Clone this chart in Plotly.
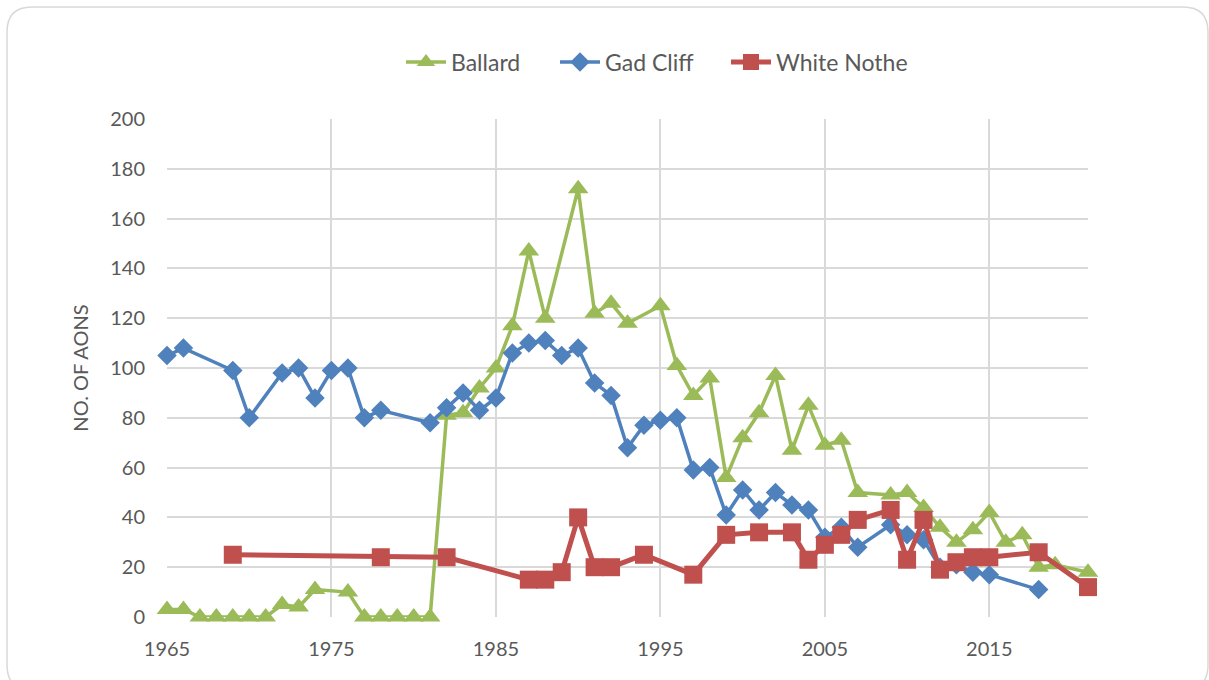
import plotly.graph_objects as go

# ---- data ----
ballard_years = [1965, 1966, 1967, 1968, 1969, 1970, 1971, 1972, 1973, 1974, 1976, 1977,
                 1978, 1979, 1980, 1981, 1982, 1983, 1984, 1985, 1986, 1987, 1988, 1990,
                 1991, 1992, 1993, 1995, 1996, 1997, 1998, 1999, 2000, 2001, 2002, 2003,
                 2004, 2005, 2006, 2007, 2009, 2010, 2011, 2012, 2013, 2014, 2015, 2016,
                 2017, 2018, 2019, 2021]
ballard_vals = [3, 3, 0, 0, 0, 0, 0, 5, 4, 11, 10, 0,
                0, 0, 0, 0, 81, 82, 92, 100, 117, 147, 120, 172,
                122, 126, 118, 125, 101, 89, 96, 56, 72, 82, 97, 67,
                85, 69, 71, 50, 49, 50, 44, 36, 30, 35, 42, 30,
                33, 20, 21, 18]

gad_years = [1965, 1966, 1969, 1970, 1972, 1973, 1974, 1975, 1976, 1977, 1978, 1981,
             1982, 1983, 1984, 1985, 1986, 1987, 1988, 1989, 1990, 1991, 1992, 1993,
             1994, 1995, 1996, 1997, 1998, 1999, 2000, 2001, 2002, 2003, 2004, 2005,
             2006, 2007, 2009, 2010, 2011, 2012, 2013, 2014, 2015, 2018]
gad_vals = [105, 108, 99, 80, 98, 100, 88, 99, 100, 80, 83, 78,
            84, 90, 83, 88, 106, 110, 111, 105, 108, 94, 89, 68,
            77, 79, 80, 59, 60, 41, 51, 43, 50, 45, 43, 32,
            36, 28, 37, 33, 31, 20, 21, 18, 17, 11]

white_years = [1969, 1978, 1982, 1987, 1988, 1989, 1990, 1991, 1992, 1994, 1997, 1999,
               2001, 2003, 2004, 2005, 2006, 2007, 2009, 2010, 2011, 2012, 2013, 2014,
               2015, 2018, 2021]
white_vals = [25, 24, 24, 15, 15, 18, 40, 20, 20, 25, 17, 33,
              34, 34, 23, 29, 33, 39, 43, 23, 39, 19, 22, 24,
              24, 26, 12]

x_ticks = [1965, 1975, 1985, 1995, 2005, 2015]
y_ticks = [0, 20, 40, 60, 80, 100, 120, 140, 160, 180, 200]

GREEN = "#9BBB59"
BLUE = "#4F81BD"
RED = "#C0504D"
TXT = "#595959"
GRID = "#D9D9D9"
FONT = "Lato"

fig = go.Figure()
fig.add_trace(go.Scatter(x=ballard_years, y=ballard_vals, name="Ballard", mode="lines+markers",
                         line=dict(color=GREEN, width=3.5), cliponaxis=False, legend="legend",
                         marker=dict(symbol="triangle-up", size=18, color=GREEN)))
fig.add_trace(go.Scatter(x=gad_years, y=gad_vals, name="Gad Cliff", mode="lines+markers",
                         line=dict(color=BLUE, width=3.5), cliponaxis=False, legend="legend2",
                         marker=dict(symbol="diamond", size=15, color=BLUE)))
fig.add_trace(go.Scatter(x=white_years, y=white_vals, name="White Nothe", mode="lines+markers",
                         line=dict(color=RED, width=5), cliponaxis=False, legend="legend3",
                         marker=dict(symbol="square", size=18, color=RED)))

# plot area in pixels: x 167..1088, y 119..617
L, R, T, B = 167, 1088, 119, 617
W, H = 1209, 680
pw, ph = R - L, B - T

def px(x):
    return (x - L) / pw

def py(y):
    return (B - y) / ph

x0, x1 = px(7), px(1208)
yt, yb = py(7), py(690)
rx, ry = 25 / pw, 25 / ph
path = (f"M {x0+rx},{yt} L {x1-rx},{yt} Q {x1},{yt} {x1},{yt-ry} "
        f"L {x1},{yb+ry} Q {x1},{yb} {x1-rx},{yb} L {x0+rx},{yb} "
        f"Q {x0},{yb} {x0},{yb+ry} L {x0},{yt-ry} Q {x0},{yt} {x0+rx},{yt} Z")

def leg(xpix):
    return dict(orientation="h", xanchor="left", x=px(xpix), yanchor="middle", y=py(62),
                font=dict(family=FONT, size=23, color=TXT), bgcolor="rgba(0,0,0,0)",
                itemwidth=40)

fig.update_layout(
    width=W, height=H, autosize=False,
    margin=dict(l=L, r=W - R, t=T, b=H - B, pad=0),
    paper_bgcolor="white", plot_bgcolor="white",
    font=dict(family=FONT, color=TXT, size=20),
    showlegend=True,
    legend=leg(401), legend2=leg(555), legend3=leg(726),
    shapes=[dict(type="path", path=path, xref="paper", yref="paper",
                 line=dict(color=GRID, width=1.5), fillcolor="rgba(0,0,0,0)", layer="below")],
    xaxis=dict(range=[1965, 2021], tickvals=x_ticks, ticktext=[str(v) for v in x_ticks],
               showgrid=True, gridcolor=GRID, gridwidth=1.6, zeroline=False,
               showline=False, ticks="", ticklabelstandoff=18,
               tickfont=dict(family=FONT, size=20, color=TXT)),
    yaxis=dict(range=[0, 200], tickvals=y_ticks, showgrid=True, gridcolor=GRID, gridwidth=1.6,
               zeroline=False, showline=False, ticks="", ticklabelstandoff=21,
               tickfont=dict(family=FONT, size=20, color=TXT),
               title=dict(text="NO. OF AONS", standoff=16,
                          font=dict(family=FONT, size=20, color=TXT))),
)

fig.write_html("out.html", config={"displayModeBar": False},
               post_script="document.body.style.margin='0';")
